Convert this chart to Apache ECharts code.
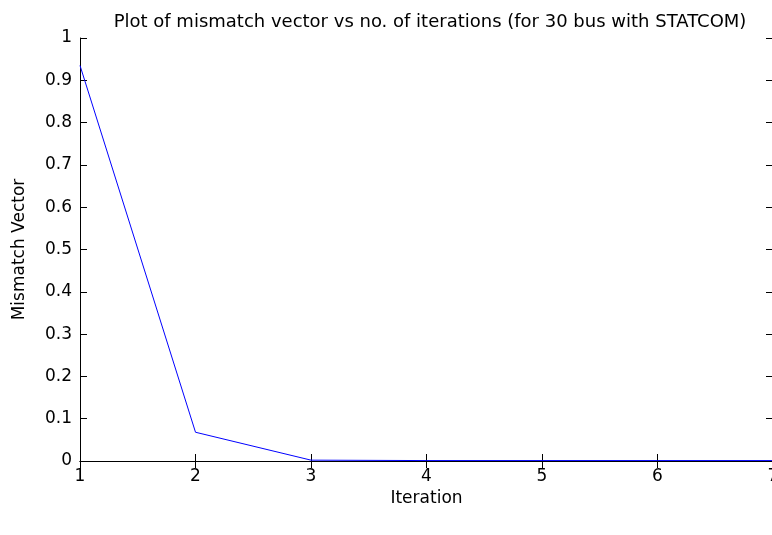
<!DOCTYPE html>
<html>
<head>
    <meta charset="utf-8">
    <title>Mismatch vector</title>
    <script src="https://cdn.jsdelivr.net/npm/echarts@6/dist/echarts.min.js"></script>
    <style>
        body { margin: 0; background: #fff; }
    </style>
</head>
<body>
<div id="main" style="width: 772px;height:535px;"></div>
<script type="text/javascript">
    // iteration number and mismatch
    let iterations = [1, 2, 3, 4, 5, 6, 7];
    let mismatch = [0.935, 0.068, 0.002, 0.001, 0.001, 0.001, 0.001];

    let font = 'DejaVu Sans, sans-serif';
    let axisLine = { show: true, lineStyle: { color: '#000', width: 1 } };
    let tick = { show: true, inside: true, length: 7, lineStyle: { color: '#000' } };

    let myChart = echarts.init(document.getElementById('main'));
    myChart.setOption({
        animation: false,
        title: {
            text: 'Plot of mismatch vector vs no. of iterations (for 30 bus with STATCOM)',
            left: 425,
            textAlign: 'center',
            top: 8,
            textStyle: { fontFamily: font, fontSize: 18, fontWeight: 'normal', color: '#000' }
        },
        grid: { left: 80, right: -1, top: 38, bottom: 74, outerBoundsMode: 'none' },
        xAxis: [{
            type: 'value', min: 1, max: 7, interval: 1,
            name: 'Iteration', nameLocation: 'middle', nameGap: 28,
            nameTextStyle: { fontFamily: font, fontSize: 17, color: '#000' },
            axisLine: axisLine, axisTick: tick,
            axisLabel: { fontFamily: font, fontSize: 17, color: '#000', margin: 7 },
            splitLine: { show: false }
        }, {
            type: 'value', min: 1, max: 7, interval: 1, position: 'top',
            axisLine: axisLine, axisTick: tick, axisLabel: { show: false }, splitLine: { show: false }
        }],
        yAxis: [{
            type: 'value', min: 0, max: 1, interval: 0.1,
            name: 'Mismatch Vector', nameLocation: 'middle', nameGap: 52,
            nameTextStyle: { fontFamily: font, fontSize: 17, color: '#000' },
            axisLine: axisLine, axisTick: tick,
            axisLabel: { fontFamily: font, fontSize: 17, color: '#000', margin: 8 },
            splitLine: { show: false }
        }, {
            type: 'value', min: 0, max: 1, interval: 0.1, position: 'right',
            axisLine: axisLine, axisTick: tick, axisLabel: { show: false }, splitLine: { show: false }
        }],
        series: [{
            type: 'line',
            data: iterations.map((x, i) => [x, mismatch[i]]),
            showSymbol: false,
            lineStyle: { color: '#0000ff', width: 1 },
            itemStyle: { color: '#0000ff' }
        }]
    });
</script>
</body>
</html>
